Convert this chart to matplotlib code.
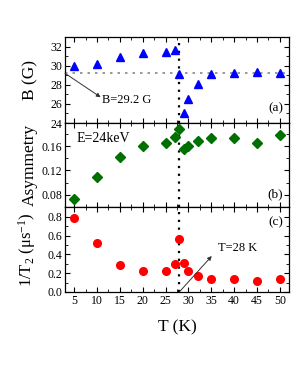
import matplotlib
matplotlib.use("Agg")
import matplotlib.pyplot as plt
from matplotlib.ticker import MultipleLocator

plt.rcParams["font.family"] = ["Liberation Serif", "DejaVu Serif"]
plt.rcParams["mathtext.fontset"] = "custom"
plt.rcParams["mathtext.rm"] = "Liberation Serif"
plt.rcParams["mathtext.it"] = "Liberation Serif:italic"

# ── Data ──────────────────────────────────────────────────────────────────────
T = [5, 10, 15, 20, 25, 27, 28, 29, 30, 32, 35, 40, 45, 50]
B_field = [30.0, 30.2, 30.9, 31.3, 31.4, 31.6, 29.1, 25.0, 26.5, 28.1, 29.1, 29.2, 29.3, 29.2]
asym = [0.073, 0.109, 0.1425, 0.161, 0.1655, 0.1745, 0.1885, 0.1557, 0.160, 0.169, 0.173, 0.174, 0.165, 0.1775]
relax = [0.785, 0.52, 0.285, 0.225, 0.225, 0.30, 0.565, 0.31, 0.225, 0.175, 0.135, 0.135, 0.12, 0.135]

B_REF = 29.2
T_C = 28

fig = plt.figure(figsize=(2.99, 3.71), dpi=100)
left, right = 65 / 299, 289 / 299
tops = [37, 123, 207, 292]
axes = []
for i in range(3):
    y0 = 1 - tops[i + 1] / 371
    h = (tops[i + 1] - tops[i]) / 371
    axes.append(fig.add_axes([left, y0, right - left, h]))
ax_a, ax_b, ax_c = axes

# Panel (a)
ax_a.axhline(B_REF, color="#888888", ls=(0, (1.5, 3)), lw=1.2, zorder=1)
ax_a.plot(T, B_field, "^", color="blue", ms=6, zorder=3)
ax_a.set_ylim(24, 33)
ax_a.yaxis.set_major_locator(MultipleLocator(2))
ax_a.yaxis.set_minor_locator(MultipleLocator(1))
ax_a.set_ylabel("B (G)", fontsize=12.5)
ax_a.annotate("", xy=(10.8, 26.7), xytext=(3.0, B_REF),
              arrowprops=dict(arrowstyle="-|>", color="#333333", lw=0.7,
                              mutation_scale=6, shrinkA=0, shrinkB=0))
ax_a.text(11.2, 26.4, "B=29.2 G", fontsize=9, ha="left", va="center")
ax_a.text(0.975, 0.17, "(a)", transform=ax_a.transAxes, fontsize=9.5, ha="right", va="center")

# Panel (b)
ax_b.plot(T, asym, "D", color="#007000", ms=5, zorder=3)
ax_b.set_ylim(0.06, 0.198)
ax_b.yaxis.set_major_locator(MultipleLocator(0.04))
ax_b.yaxis.set_minor_locator(MultipleLocator(0.02))
ax_b.yaxis.set_major_formatter(plt.FuncFormatter(lambda v, p: f"{v:.2f}"))
ax_b.set_ylabel("Asymmetry", fontsize=12.5)
ax_b.text(0.05, 0.82, "E=24keV", transform=ax_b.transAxes, fontsize=10, ha="left", va="center")
ax_b.text(0.975, 0.15, "(b)", transform=ax_b.transAxes, fontsize=9.5, ha="right", va="center")

# Panel (c)
ax_c.plot(T, relax, "o", color="red", ms=5.5, zorder=3)
ax_c.set_ylim(0, 0.905)
ax_c.yaxis.set_major_locator(MultipleLocator(0.2))
ax_c.yaxis.set_minor_locator(MultipleLocator(0.1))
ax_c.yaxis.set_major_formatter(plt.FuncFormatter(lambda v, p: f"{v:.1f}"))
ax_c.set_ylabel("1/T$_2$ (μs$^{-1}$)", fontsize=12)
ax_c.annotate("", xy=(35.1, 0.383), xytext=(T_C, 0.0),
              arrowprops=dict(arrowstyle="-|>", color="#333333", lw=0.7,
                              mutation_scale=6, shrinkA=0, shrinkB=0))
ax_c.text(36.5, 0.465, "T=28 K", fontsize=9, ha="left", va="center")
ax_c.text(0.975, 0.82, "(c)", transform=ax_c.transAxes, fontsize=9.5, ha="right", va="center")
ax_c.set_xlabel("T (K)", fontsize=12.5, labelpad=9)

for ax in axes:
    ax.axvline(T_C, color="black", ls=(0, (1, 2.5)), lw=1.6, zorder=2)
    ax.set_xlim(3, 52)
    ax.xaxis.set_major_locator(MultipleLocator(5))
    ax.xaxis.set_minor_locator(MultipleLocator(2.5))
    ax.tick_params(which="both", direction="in", top=True, right=True, labelsize=8.5, pad=2)
    ax.tick_params(which="major", length=3.5, width=0.8)
    ax.tick_params(which="minor", length=2, width=0.6)
    for s in ax.spines.values():
        s.set_linewidth(0.9)
    ax.yaxis.set_label_coords(-0.12, 0.5)

ax_a.tick_params(labelbottom=False)
ax_b.tick_params(labelbottom=False)

fig.savefig("out.png", dpi=100)
